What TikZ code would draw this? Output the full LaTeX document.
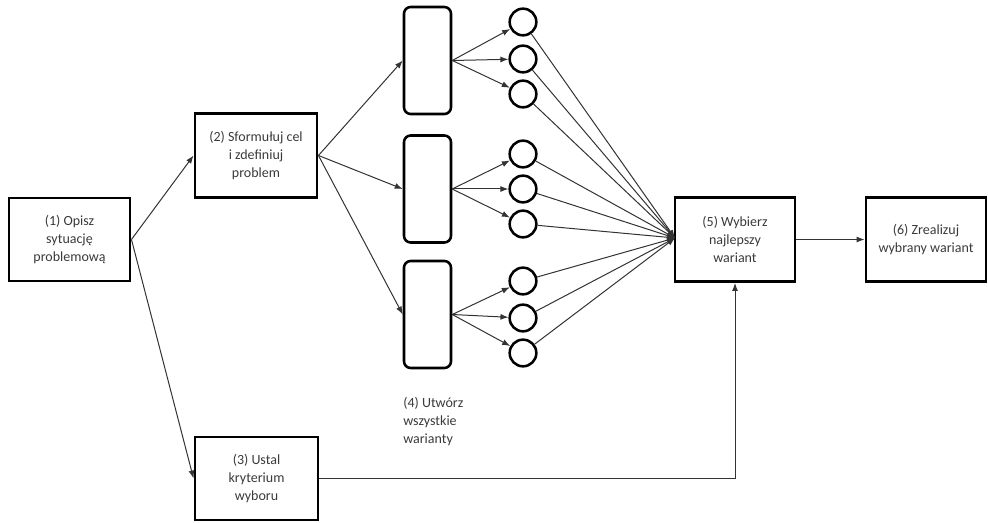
\documentclass[tikz,border=0pt]{standalone}
\usepackage{fontspec}
\setmainfont{Carlito}
\usetikzlibrary{arrows.meta}
\definecolor{txt}{HTML}{3A3A3A}
\definecolor{ln}{HTML}{333333}
\tikzset{
  box/.style={draw=black, line width=2.2pt, minimum width=#1, align=center, text=txt, font=\fontsize{10.5}{13.5}\selectfont, inner sep=0pt},
  box/.default={90pt},
  rbox/.style={draw=black, line width=1.9pt, rounded corners=5pt, minimum width=35.25pt, minimum height=80.25pt, inner sep=0pt},
  circ/.style={draw=black, line width=1.9pt, circle, minimum size=20pt, inner sep=0pt},
  con/.style={draw=ln, line width=0.75pt, -{Latex[length=6pt,width=4.5pt]}},
}
\begin{document}
\begin{tikzpicture}[x=0.75pt,y=-0.75pt]
\useasboundingbox (0,0) rectangle (988,523);
% main boxes
\node[box=90.75pt, minimum height=62.25pt] (b1) at (69.5,239.5) {(1) Opisz\\sytuację\\problemową};
\node[box=91.5pt, minimum height=63pt] (b2) at (256,155.5) {(2) Sformułuj cel\\i zdefiniuj\\problem};
\node[box=92.25pt, minimum height=62.25pt] (b3) at (256.5,478.5) {(3) Ustal\\kryterium\\wyboru};
\node[box=90pt, minimum height=63pt] (b5) at (735,239.5) {(5) Wybierz\\najlepszy\\wariant};
\node[box=90pt, minimum height=63pt] (b6) at (926,239.5) {(6) Zrealizuj\\wybrany wariant};
% variant groups
\node[rbox] (rA) at (427.5,60.5) {};
\node[rbox] (rB) at (427.5,189) {};
\node[rbox] (rC) at (427.5,314.5) {};
\node[circ] (cA1) at (523,22) {};
\node[circ] (cA2) at (523,59) {};
\node[circ] (cA3) at (523,94) {};
\node[circ] (cB1) at (523,154) {};
\node[circ] (cB2) at (523,189) {};
\node[circ] (cB3) at (523,224) {};
\node[circ] (cC1) at (523,281) {};
\node[circ] (cC2) at (523,318) {};
\node[circ] (cC3) at (523,353) {};
\node[anchor=north west, inner sep=0pt, align=left, text=txt, font=\fontsize{10.5}{13.5}\selectfont] (l4) at (403,397) {(4) Utwórz\\wszystkie\\warianty};
\coordinate (m5) at (675,238);
% connectors
\draw[con] (b1.east) -- (b2.west);
\draw[con] (b1.east) -- (b3.west);
\foreach \r in {rA,rB,rC} \draw[con] (b2.east) -- (\r.west);
\foreach \c in {cA1,cA2,cA3} \draw[con] (rA.east) -- (\c);
\foreach \c in {cB1,cB2,cB3} \draw[con] (rB.east) -- (\c);
\foreach \c in {cC1,cC2,cC3} \draw[con] (rC.east) -- (\c);
\foreach \c in {cA1,cA2,cA3,cB1,cB2,cB3,cC1,cC2,cC3} \draw[con] (\c) -- (m5);
\draw[con] (b3.east) -| (b5.south);
\draw[con] (b5.east) -- (b6.west);
\end{tikzpicture}
\end{document}
